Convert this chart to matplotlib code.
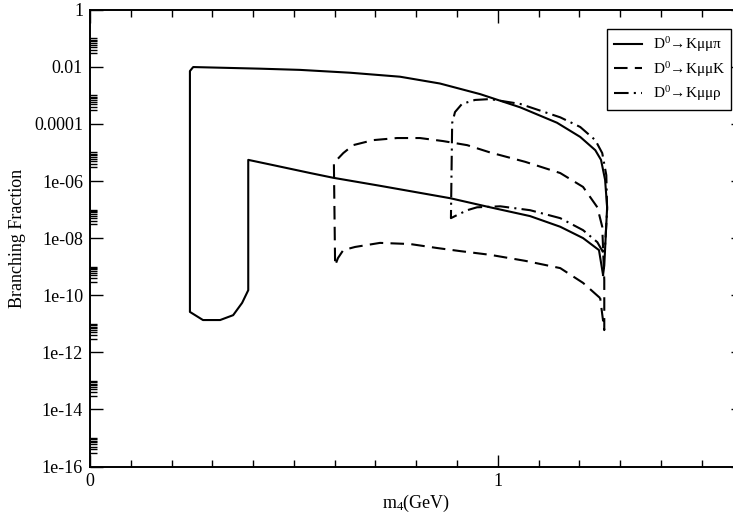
"""Branching fraction of D0 -> K mu mu X versus the heavy neutrino mass m4."""

import matplotlib
matplotlib.use("Agg")
import matplotlib.pyplot as plt
from matplotlib.ticker import FixedLocator, FixedFormatter, MultipleLocator
import numpy as np

plt.rcParams["font.family"] = ["Liberation Serif", "DejaVu Serif"]
plt.rcParams["mathtext.fontset"] = "custom"
plt.rcParams["mathtext.rm"] = "Liberation Serif"
plt.rcParams["mathtext.it"] = "Liberation Serif:italic"
plt.rcParams["mathtext.default"] = "regular"

# Allowed-region boundaries, traced as closed paths (m4 in GeV, branching fraction)
kmmpi_m4 = [1.258, 1.248, 1.209, 1.153, 1.079, 0.981, 0.883, 0.711, 0.596, 0.540,
            0.449, 0.388, 0.388, 0.373, 0.351, 0.319, 0.277, 0.245, 0.245, 0.253,
            0.417, 0.515, 0.638, 0.760, 0.858, 0.957, 1.055, 1.145, 1.202, 1.239,
            1.253, 1.263, 1.268, 1.261, 1.258]
kmmpi_bf = [5.1e-10, 3.8e-9, 1.0e-8, 2.5e-8, 5.9e-8, 1.2e-7, 2.5e-7, 6.8e-7, 1.3e-6, 1.9e-6,
            3.6e-6, 5.5e-6, 1.5e-10, 5.4e-11, 2.0e-11, 1.35e-11, 1.35e-11, 2.6e-11, 7.1e-3, 9.8e-3,
            8.6e-3, 7.8e-3, 6.2e-3, 4.5e-3, 2.6e-3, 1.1e-3, 3.8e-4, 1.1e-4, 3.5e-5, 1.2e-5,
            5.5e-6, 1.1e-6, 1.2e-7, 1.1e-9, 5.1e-10]

kmmk_m4 = [1.251, 1.209, 1.153, 1.067, 0.981, 0.908, 0.851, 0.785, 0.711, 0.650,
           0.621, 0.608, 0.601, 0.598, 0.621, 0.645, 0.694, 0.753, 0.809, 0.866,
           0.925, 0.981, 1.067, 1.153, 1.209, 1.244, 1.256, 1.261, 1.261, 1.253, 1.251]
kmmk_bf = [7.9e-11, 2.7e-10, 8.9e-10, 1.6e-9, 2.6e-9, 3.5e-9, 4.5e-9, 6.2e-9, 6.8e-9, 4.9e-9,
           3.8e-9, 2.0e-9, 1.1e-9, 4.3e-6, 9.5e-6, 1.8e-5, 2.7e-5, 3.2e-5, 3.2e-5, 2.5e-5,
           1.8e-5, 1.0e-5, 4.7e-6, 1.9e-6, 6.2e-7, 1.2e-7, 2.5e-8, 3.4e-10, 6.0e-12, 4.6e-11, 7.9e-11]

kmmrho_m4 = [1.258, 1.244, 1.209, 1.153, 1.079, 1.006, 0.949, 0.925, 0.900, 0.885,
             0.888, 0.895, 0.912, 0.944, 0.981, 1.055, 1.153, 1.202, 1.239, 1.256,
             1.266, 1.268, 1.263, 1.258]
kmmrho_bf = [3.2e-9, 7.2e-9, 1.9e-8, 5.0e-8, 9.5e-8, 1.3e-7, 1.2e-7, 9.5e-8, 6.4e-8, 5.0e-8,
             1.07e-4, 2.6e-4, 5.0e-4, 6.9e-4, 7.4e-4, 5.0e-4, 1.7e-4, 7.8e-5, 2.7e-5, 9.5e-6,
             1.6e-6, 9.5e-8, 5.7e-9, 3.2e-9]

labels = [r"D$^0$→Kμμπ", r"D$^0$→KμμK", r"D$^0$→Kμμρ"]

y_major = [1e-16, 1e-14, 1e-12, 1e-10, 1e-8, 1e-6, 1e-4, 1e-2, 1]
y_major_labels = ["1e-16", "1e-14", "1e-12", "1e-10", "1e-08", "1e-06", "0.0001", "0.01", "1"]
x_major = [0, 1]
x_major_labels = ["0", "1"]

fig = plt.figure(figsize=(7.33, 5.16), dpi=100)
# right edge sits just past the canvas, so the frame is clipped on that side
ax = fig.add_axes([0.1228, 0.0959, 0.8902, 0.8853])

lw = 1.5
ax.plot(kmmpi_m4, kmmpi_bf, color="black", lw=lw, ls="-", label=labels[0])
ax.plot(kmmk_m4, kmmk_bf, color="black", lw=lw, ls=(0, (6.5, 3.5)), label=labels[1])
ax.plot(kmmrho_m4, kmmrho_bf, color="black", lw=lw, ls=(0, (7, 2.5, 1, 2.5)), label=labels[2])

ax.set_yscale("log")
ax.set_xlim(0, 1.6)
ax.set_ylim(1e-16, 1)

ax.xaxis.set_major_locator(FixedLocator(x_major))
ax.xaxis.set_major_formatter(FixedFormatter(x_major_labels))
ax.xaxis.set_minor_locator(MultipleLocator(0.1))

# grace-style minor ticks: 3x..10x of each major tick value
minor = []
for lo in y_major[:-1]:
    minor.extend(lo * np.arange(3, 11))
ax.yaxis.set_major_locator(FixedLocator(y_major))
ax.yaxis.set_major_formatter(FixedFormatter(y_major_labels))
ax.yaxis.set_minor_locator(FixedLocator(minor))
ax.yaxis.set_minor_formatter(FixedFormatter([]))

ax.tick_params(which="both", direction="in", top=True, right=True, width=1.0,
               labelsize=13, colors="black")
ax.tick_params(which="major", length=9, pad=5)
ax.tick_params(which="minor", length=4.7)
for s in ax.spines.values():
    s.set_linewidth(1.4)

ax.set_xlabel("m$_4$(GeV)", fontsize=13, labelpad=2)
ax.set_ylabel("Branching Fraction", fontsize=13, labelpad=6)

leg = ax.legend(loc="upper right", bbox_to_anchor=(0.9973, 0.9438),
                bbox_transform=fig.transFigure, fontsize=11, handlelength=1.85,
                handletextpad=0.7, labelspacing=0.38, borderpad=0.4,
                borderaxespad=0, fancybox=False, framealpha=1, edgecolor="black")
leg.get_frame().set_linewidth(1.0)

fig.savefig("out.png", dpi=100)
